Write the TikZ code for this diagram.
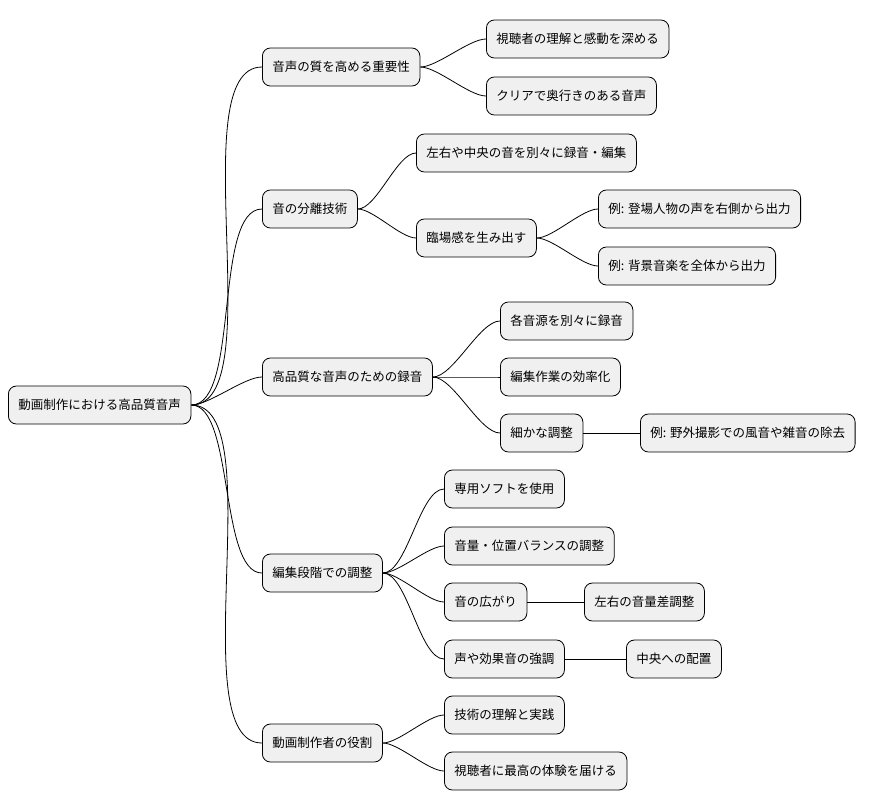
\documentclass[tikz,border=0pt]{standalone}
\usepackage{fontspec}
\newfontfamily\jpfont{Noto Sans CJK JP}
\begin{document}
\begin{tikzpicture}[x=1pt,y=-1pt,
    idea/.style={
      % The shape:
      rectangle,rounded corners=8pt,minimum height=38pt,inner xsep=10pt,anchor=west,
      % The rest
      draw=black,line width=0.8pt,fill=black!6,
      font=\jpfont\fontsize{12.5pt}{14pt}\selectfont},
    link/.style={line width=0.8pt,out=0,in=180,looseness=0.6}]
    \useasboundingbox (0,0) rectangle (890,809);
    \node (root) [idea] at (8,405) {動画制作における高品質音声};
    \node (quality) [idea] at (262,67) {音声の質を高める重要性};
    \node (separate) [idea] at (262,209) {音の分離技術};
    \node (record) [idea] at (262,377) {高品質な音声のための録音};
    \node (edit) [idea] at (262,573) {編集段階での調整};
    \node (role) [idea] at (262,743) {動画制作者の役割};
    \node (deepen) [idea] at (486,39) {視聴者の理解と感動を深める};
    \node (clear) [idea] at (486,96) {クリアで奥行きのある音声};
    \node (lrc) [idea] at (416,153) {左右や中央の音を別々に録音・編集};
    \node (presence) [idea] at (416,238) {臨場感を生み出す};
    \node (voice) [idea] at (598,209) {例: 登場人物の声を右側から出力};
    \node (bgm) [idea] at (598,266) {例: 背景音楽を全体から出力};
    \node (sources) [idea] at (500,321) {各音源を別々に録音};
    \node (effic) [idea] at (500,377) {編集作業の効率化};
    \node (fine) [idea] at (500,433) {細かな調整};
    \node (wind) [idea] at (640,433) {例: 野外撮影での風音や雑音の除去};
    \node (soft) [idea] at (444,489) {専用ソフトを使用};
    \node (balance) [idea] at (444,546) {音量・位置バランスの調整};
    \node (spread) [idea] at (444,602) {音の広がり};
    \node (lrdiff) [idea] at (584,602) {左右の音量差調整};
    \node (emph) [idea] at (444,659) {声や効果音の強調};
    \node (center) [idea] at (626,659) {中央への配置};
    \node (practice) [idea] at (444,715) {技術の理解と実践};
    \node (best) [idea] at (444,771) {視聴者に最高の体験を届ける};
    \draw[link] (root.east) to (quality.west);
    \draw[link] (root.east) to (separate.west);
    \draw[link] (root.east) to (record.west);
    \draw[link] (root.east) to (edit.west);
    \draw[link] (root.east) to (role.west);
    \draw[link] (quality.east) to (deepen.west);
    \draw[link] (quality.east) to (clear.west);
    \draw[link] (separate.east) to (lrc.west);
    \draw[link] (separate.east) to (presence.west);
    \draw[link] (presence.east) to (voice.west);
    \draw[link] (presence.east) to (bgm.west);
    \draw[link] (record.east) to (sources.west);
    \draw[link] (record.east) to (effic.west);
    \draw[link] (record.east) to (fine.west);
    \draw[link] (fine.east) to (wind.west);
    \draw[link] (edit.east) to (soft.west);
    \draw[link] (edit.east) to (balance.west);
    \draw[link] (edit.east) to (spread.west);
    \draw[link] (edit.east) to (emph.west);
    \draw[link] (spread.east) to (lrdiff.west);
    \draw[link] (emph.east) to (center.west);
    \draw[link] (role.east) to (practice.west);
    \draw[link] (role.east) to (best.west);
  \end{tikzpicture}
\end{document}
